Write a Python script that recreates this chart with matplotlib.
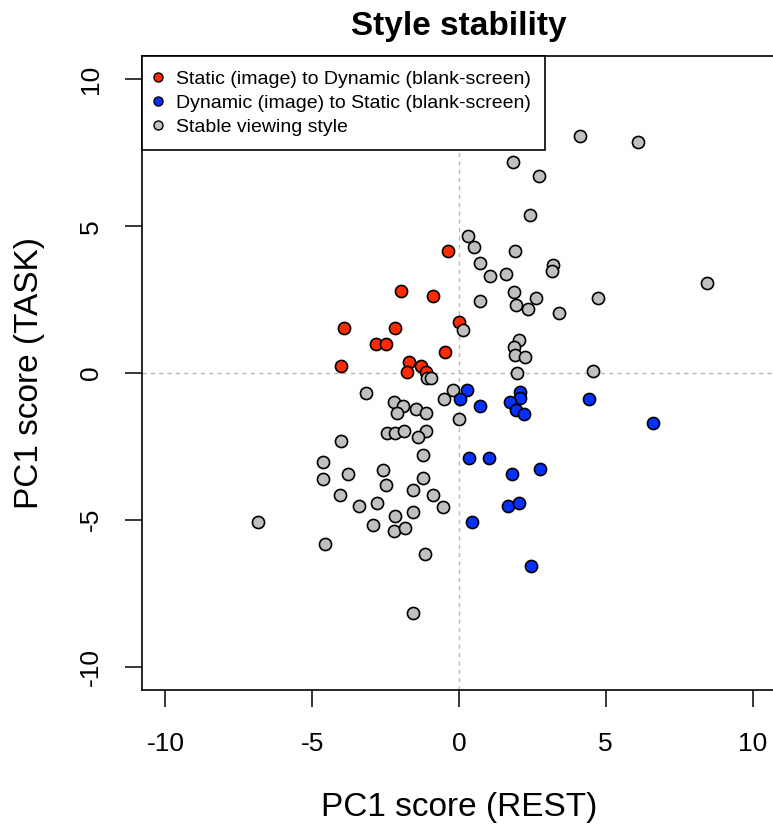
import matplotlib
matplotlib.use("Agg")
from matplotlib import pyplot as plt
from matplotlib.lines import Line2D

plt.rcParams['font.family'] = ['Liberation Sans', 'DejaVu Sans']

# Data
red_x = [-0.36, -1.96, -0.90, -3.91, -2.17, -2.84, -2.49, 0.00, -0.48, -4.03, -1.72, -1.29, -1.76, -1.12]
red_y = [4.17, 2.79, 2.61, 1.52, 1.52, 0.98, 0.98, 1.75, 0.73, 0.23, 0.39, 0.24, 0.05, 0.02]

blue_x = [0.26, 0.02, 0.72, 2.09, 2.07, 1.73, 1.93, 2.21, 4.44, 6.60, 0.33, 1.01, 1.80, 2.77, 1.67, 2.05, 0.44, 2.47]
blue_y = [-0.58, -0.90, -1.14, -0.65, -0.86, -0.99, -1.27, -1.40, -0.87, -1.71, -2.88, -2.91, -3.43, -3.27, -4.54, -4.44, -5.07, -6.56]

gray_x = [4.13, 6.11, 1.83, 2.73, 2.43, 0.32, 0.52, 1.90, 0.71, 1.05, 1.60, 3.20, 3.18, 8.46, 1.87,
          2.61, 1.95, 2.36, 0.71, 4.72, 3.40, 0.15, 2.06, 1.89, 1.91, 2.25, 1.96, 4.56, -1.08, -0.97,
          -3.17, -0.20, -0.51, 0.00, -2.22, -1.90, -2.10, -1.47, -1.11, -2.44, -2.19, -1.88, -1.13, -1.39,
          -4.01, -1.21, -4.65, -4.62, -3.78, -2.60, -2.49, -1.24, -1.56, -0.88, -0.56, -4.05, -3.40, -2.80,
          -2.19, -1.58, -2.92, -2.21, -1.84, -4.56, -1.15, -1.57, -6.84]
gray_y = [8.07, 7.88, 7.19, 6.71, 5.40, 4.66, 4.29, 4.14, 3.76, 3.32, 3.37, 3.68, 3.48, 3.07, 2.77,
          2.55, 2.31, 2.18, 2.44, 2.54, 2.04, 1.47, 1.12, 0.88, 0.63, 0.56, 0.00, 0.07, -0.18, -0.16,
          -0.67, -0.57, -0.89, -1.57, -0.99, -1.12, -1.35, -1.22, -1.35, -2.06, -2.06, -1.99, -1.96, -2.19,
          -2.31, -2.78, -3.02, -3.62, -3.44, -3.30, -3.83, -3.58, -4.00, -4.17, -4.56, -4.17, -4.54, -4.42,
          -4.87, -4.73, -5.18, -5.37, -5.29, -5.83, -6.16, -8.18, -5.09]

labels = ["Static (image) to Dynamic (blank-screen)",
          "Dynamic (image) to Static (blank-screen)",
          "Stable viewing style"]
ticks = [-10, -5, 0, 5, 10]

c_red = '#ff2a00'
c_blue = '#0630ff'
c_gray = '#c0c0c0'

fig = plt.figure(figsize=(7.73, 8.25), dpi=100)
ax = fig.add_axes([142 / 773, 135 / 825, 634 / 773, 634 / 825])

ax.axvline(0, color='#b8b8b8', lw=1, dashes=(3, 3), zorder=1)
ax.axhline(0, color='#b8b8b8', lw=1, dashes=(3, 3), zorder=1)

ax.scatter(red_x, red_y, s=76, c=c_red, edgecolors='black', linewidths=1.2, zorder=3)
ax.scatter(gray_x, gray_y, s=76, c=c_gray, edgecolors='black', linewidths=1.2, zorder=3)
ax.scatter(blue_x, blue_y, s=76, c=c_blue, edgecolors='black', linewidths=1.2, zorder=3)

ax.set_xlim(-10.8, 10.8)
ax.set_ylim(-10.8, 10.8)
ax.set_xticks(ticks)
ax.set_yticks(ticks)
ax.set_xticklabels([str(t) for t in ticks])
ax.set_yticklabels([str(t) for t in ticks], rotation=90, va='center')
ax.tick_params(axis='both', direction='out', length=12, width=1.1, labelsize=19, color='black')
ax.tick_params(axis='x', pad=18)
ax.tick_params(axis='y', pad=16)
for sp in ax.spines.values():
    sp.set_linewidth(1.2)
    sp.set_color('black')

ax.set_xlabel("PC1 score (REST)", fontsize=24)
ax.set_ylabel("PC1 score (TASK)", fontsize=24)
ax.xaxis.set_label_coords(0.5, -0.185)
ax.xaxis.label.set_va('center')
ax.yaxis.set_label_coords(-0.178, 0.5)
ax.yaxis.label.set_va('center')

ax.text(0.5, 1.047, "Style stability", transform=ax.transAxes, ha='center', va='center',
        fontsize=24, fontweight='bold')

handles = [Line2D([], [], ls='none', marker='o', markersize=6.5, markerfacecolor=c,
                  markeredgecolor='black', markeredgewidth=1) for c in (c_red, c_blue, c_gray)]
leg = ax.legend(handles, labels, loc='upper left', bbox_to_anchor=(0, 1), borderaxespad=0,
                fontsize=14, fancybox=False, framealpha=1, edgecolor='black',
                borderpad=0.72, handlelength=0.2, handletextpad=0.85, labelspacing=0.33)
leg.get_frame().set_linewidth(1.2)
leg.set_zorder(5)

fig.savefig('out.png', dpi=100)
